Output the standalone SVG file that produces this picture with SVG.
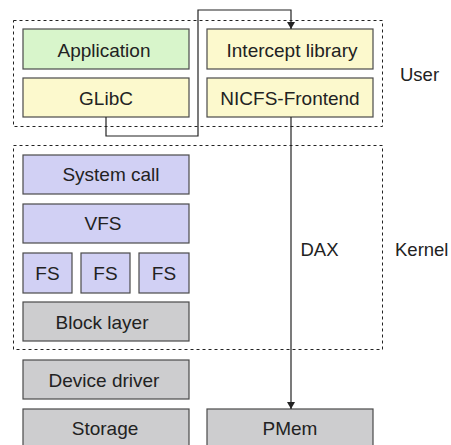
<svg xmlns="http://www.w3.org/2000/svg" width="451" height="445" viewBox="0 0 451 445">
<style>
.box{stroke:#4a4a4a;stroke-width:1.2}
.green{fill:#d8f5cb}
.yellow{fill:#fcf9cd}
.purple{fill:#d1d0f4}
.grey{fill:#cdcdcf}
.region{fill:none;stroke:#222;stroke-width:1;stroke-dasharray:3 3}
.t{font-family:"Liberation Sans",Arial,sans-serif;font-size:19px;fill:#222;text-anchor:middle}
.lbl{font-family:"Liberation Sans",Arial,sans-serif;font-size:18.5px;fill:#222}
.conn{fill:none;stroke:#222;stroke-width:1.2}
</style>
<defs>
<marker id="arr" markerWidth="8" markerHeight="8" refX="7" refY="4" orient="auto" markerUnits="userSpaceOnUse">
<path d="M0,0 L7,4 L0,8 Z" fill="#222"/>
</marker>
</defs>
<rect width="451" height="445" fill="#fff"/>
<g id="user-region">
<rect class="region" x="13.5" y="20.5" width="369" height="106"/>
<text class="lbl" x="400" y="81">User</text>
</g>
<g id="kernel-region">
<rect class="region" x="13.5" y="145.5" width="369" height="204"/>
<text class="lbl" x="395" y="256">Kernel</text>
</g>
<g id="application"><rect class="box green" x="23" y="29" width="166" height="40"/><text class="t" x="104" y="56.5">Application</text></g>
<g id="intercept"><rect class="box yellow" x="207" y="29" width="166" height="40"/><text class="t" x="292" y="56.5">Intercept library</text></g>
<g id="glibc"><rect class="box yellow" x="23" y="78" width="166" height="39"/><text class="t" x="106" y="104.5">GLibC</text></g>
<g id="nicfs"><rect class="box yellow" x="207" y="78" width="166" height="39"/><text class="t" x="290" y="104.5">NICFS-Frontend</text></g>
<g id="syscall"><rect class="box purple" x="23" y="155" width="166" height="39"/><text class="t" x="111" y="181">System call</text></g>
<g id="vfs"><rect class="box purple" x="23" y="204" width="166" height="39"/><text class="t" x="103" y="230">VFS</text></g>
<g id="fs1"><rect class="box purple" x="23" y="253" width="49" height="40"/><text class="t" x="47.5" y="279.5">FS</text></g>
<g id="fs2"><rect class="box purple" x="81" y="253" width="49" height="40"/><text class="t" x="105.5" y="279.5">FS</text></g>
<g id="fs3"><rect class="box purple" x="139" y="253" width="50" height="40"/><text class="t" x="164" y="279.5">FS</text></g>
<g id="block"><rect class="box grey" x="23" y="302" width="166" height="39"/><text class="t" x="102" y="328.5">Block layer</text></g>
<g id="driver"><rect class="box grey" x="23" y="360" width="166" height="39"/><text class="t" x="104" y="386.5">Device driver</text></g>
<g id="storage"><rect class="box grey" x="23" y="409" width="166" height="40"/><text class="t" x="105" y="434.5">Storage</text></g>
<g id="pmem"><rect class="box grey" x="207" y="409" width="166" height="40"/><text class="t" x="290" y="434.5">PMem</text></g>
<g id="connectors">
<path class="conn" d="M106,117 V136 H198 V10 H291 V29" marker-end="url(#arr)"/>
<path class="conn" d="M291,117 V409" marker-end="url(#arr)"/>
<text class="lbl" x="300.5" y="256">DAX</text>
</g>
</svg>
